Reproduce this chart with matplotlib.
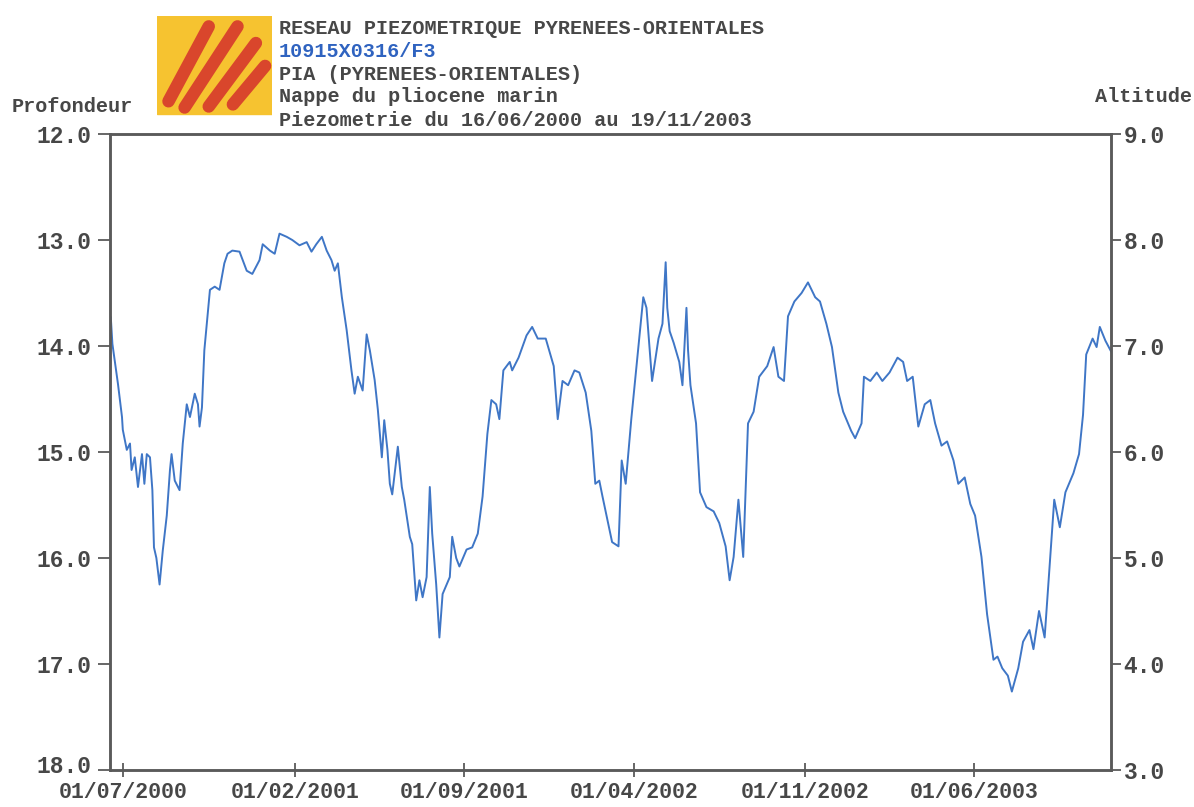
import matplotlib
matplotlib.use("Agg")
import matplotlib.pyplot as plt
from matplotlib.patches import Rectangle
from matplotlib.transforms import ScaledTranslation
import pandas as pd

# ---------------- data ----------------
dates = [
    "2000-06-16", "2000-06-18", "2000-06-25", "2000-06-30", "2000-07-01", "2000-07-06",
    "2000-07-10", "2000-07-12", "2000-07-16", "2000-07-20", "2000-07-25", "2000-07-28",
    "2000-07-31", "2000-08-04", "2000-08-07", "2000-08-09", "2000-08-12", "2000-08-16",
    "2000-08-20", "2000-08-25", "2000-08-29", "2000-08-31", "2000-09-04", "2000-09-10",
    "2000-09-14", "2000-09-19", "2000-09-23", "2000-09-29", "2000-10-03", "2000-10-05",
    "2000-10-08", "2000-10-11", "2000-10-18", "2000-10-24", "2000-10-30", "2000-11-05",
    "2000-11-09", "2000-11-15", "2000-11-24", "2000-12-03", "2000-12-10", "2000-12-19",
    "2000-12-23", "2001-01-01", "2001-01-07", "2001-01-13", "2001-01-22", "2001-01-29",
    "2001-02-07", "2001-02-16", "2001-02-22", "2001-02-28", "2001-03-07", "2001-03-13",
    "2001-03-19", "2001-03-23", "2001-03-27", "2001-04-01", "2001-04-07", "2001-04-13",
    "2001-04-17", "2001-04-21", "2001-04-27", "2001-05-02", "2001-05-06", "2001-05-12",
    "2001-05-16", "2001-05-21", "2001-05-24", "2001-05-28", "2001-05-31", "2001-06-03",
    "2001-06-10", "2001-06-15", "2001-06-18", "2001-06-25", "2001-06-28", "2001-07-03",
    "2001-07-07", "2001-07-11", "2001-07-16", "2001-07-20", "2001-07-23", "2001-07-28",
    "2001-08-01", "2001-08-05", "2001-08-14", "2001-08-17", "2001-08-22", "2001-08-26",
    "2001-09-04", "2001-09-11", "2001-09-18", "2001-09-24", "2001-09-30", "2001-10-05",
    "2001-10-11", "2001-10-15", "2001-10-20", "2001-10-28", "2001-10-31", "2001-11-08",
    "2001-11-18", "2001-11-25", "2001-12-02", "2001-12-12", "2001-12-22", "2001-12-27",
    "2002-01-02", "2002-01-09", "2002-01-17", "2002-01-23", "2002-01-31", "2002-02-07",
    "2002-02-12", "2002-02-17", "2002-02-21", "2002-02-28", "2002-03-05", "2002-03-13",
    "2002-03-17", "2002-03-22", "2002-03-29", "2002-04-06", "2002-04-13", "2002-04-17",
    "2002-04-24", "2002-05-02", "2002-05-07", "2002-05-11", "2002-05-13", "2002-05-16",
    "2002-05-21", "2002-05-28", "2002-06-01", "2002-06-06", "2002-06-08", "2002-06-11",
    "2002-06-18", "2002-06-23", "2002-07-01", "2002-07-10", "2002-07-17", "2002-07-25",
    "2002-07-30", "2002-08-04", "2002-08-10", "2002-08-16", "2002-08-22", "2002-08-29",
    "2002-09-05", "2002-09-15", "2002-09-23", "2002-09-29", "2002-10-06", "2002-10-11",
    "2002-10-19", "2002-10-28", "2002-11-05", "2002-11-14", "2002-11-20", "2002-11-28",
    "2002-12-05", "2002-12-13", "2002-12-19", "2002-12-29", "2003-01-03", "2003-01-11",
    "2003-01-14", "2003-01-22", "2003-01-30", "2003-02-06", "2003-02-15", "2003-02-25",
    "2003-03-04", "2003-03-09", "2003-03-16", "2003-03-23", "2003-03-31", "2003-04-07",
    "2003-04-13", "2003-04-21", "2003-04-28", "2003-05-06", "2003-05-12", "2003-05-20",
    "2003-05-27", "2003-06-02", "2003-06-10", "2003-06-17", "2003-06-25", "2003-06-30",
    "2003-07-06", "2003-07-13", "2003-07-18", "2003-07-26", "2003-08-01", "2003-08-09",
    "2003-08-14", "2003-08-21", "2003-08-28", "2003-09-04", "2003-09-09", "2003-09-16",
    "2003-09-23", "2003-10-03", "2003-10-10", "2003-10-15", "2003-10-19", "2003-10-27",
    "2003-11-01", "2003-11-05", "2003-11-12", "2003-11-19",
]
depth = [
    13.73, 13.98, 14.36, 14.67, 14.79, 14.98,
    14.92, 15.17, 15.05, 15.33, 15.02, 15.30,
    15.02, 15.05, 15.36, 15.90, 16.00, 16.25,
    15.93, 15.60, 15.17, 15.02, 15.27, 15.36,
    14.92, 14.55, 14.67, 14.45, 14.55, 14.76,
    14.58, 14.04, 13.47, 13.44, 13.47, 13.22,
    13.13, 13.10, 13.11, 13.29, 13.32, 13.19,
    13.04, 13.10, 13.13, 12.94, 12.97, 13.00,
    13.05, 13.02, 13.11, 13.04, 12.97, 13.10,
    13.19, 13.29, 13.22, 13.54, 13.85, 14.23,
    14.45, 14.29, 14.42, 13.89, 14.04, 14.32,
    14.60, 15.05, 14.70, 14.98, 15.30, 15.40,
    14.95, 15.33, 15.45, 15.80, 15.87, 16.40,
    16.21, 16.37, 16.18, 15.33, 15.77, 16.25,
    16.75, 16.34, 16.18, 15.80, 16.00, 16.08,
    15.92, 15.90, 15.77, 15.42, 14.83, 14.51,
    14.55, 14.69, 14.23, 14.15, 14.23, 14.11,
    13.90, 13.82, 13.93, 13.93, 14.19, 14.69,
    14.33, 14.37, 14.23, 14.25, 14.44, 14.80,
    15.30, 15.27, 15.42, 15.67, 15.85, 15.89,
    15.08, 15.30, 14.69, 14.08, 13.54, 13.64,
    14.33, 13.93, 13.79, 13.21, 13.64, 13.86,
    13.97, 14.15, 14.37, 13.64, 14.04, 14.37,
    14.73, 15.38, 15.52, 15.56, 15.67, 15.89,
    16.21, 15.99, 15.45, 15.99, 14.73, 14.62,
    14.29, 14.19, 14.01, 14.29, 14.33, 13.72,
    13.58, 13.50, 13.40, 13.54, 13.58, 13.79,
    14.01, 14.44, 14.62, 14.80, 14.87, 14.73,
    14.29, 14.33, 14.25, 14.33, 14.25, 14.11,
    14.15, 14.33, 14.29, 14.76, 14.55, 14.51,
    14.73, 14.94, 14.90, 15.08, 15.30, 15.24,
    15.49, 15.60, 15.99, 16.53, 16.96, 16.93,
    17.04, 17.11, 17.26, 17.04, 16.79, 16.68,
    16.86, 16.50, 16.75, 15.99, 15.45, 15.71,
    15.38, 15.20, 15.02, 14.65, 14.08, 13.93,
    14.01, 13.82, 13.95, 14.05,
]

x_tick_dates = ["2000-07-01", "2001-02-01", "2001-09-01", "2002-04-01", "2002-11-01", "2003-06-01"]
x_tick_labels = ["01/07/2000", "01/02/2001", "01/09/2001", "01/04/2002", "01/11/2002", "01/06/2003"]
left_ticks = [12, 13, 14, 15, 16, 17, 18]
right_ticks = [3, 4, 5, 6, 7, 8, 9]
x_start, x_end = "2000-06-15", "2003-11-19"

header_lines = [
    "RESEAU PIEZOMETRIQUE PYRENEES-ORIENTALES",
    "10915X0316/F3",
    "PIA (PYRENEES-ORIENTALES)",
    "Nappe du pliocene marin",
    "Piezometrie du 16/06/2000 au 19/11/2003",
]

# ---------------- figure ----------------
W, H = 1194, 807
fig = plt.figure(figsize=(W / 100, H / 100), dpi=100)
fig.patch.set_facecolor("white")

TXT = "#474747"
AX = "#5a5a5a"
LINE = "#3f76c6"
mono = ["Liberation Mono", "DejaVu Sans Mono"]
ytick_font = dict(family=mono, weight="bold", size=16.5)
xtick_font = dict(family=mono, weight="bold", size=15.5)
head_font = dict(family=mono, weight="bold", size=14.5)

def fx(px):
    return px / W

def fy(py):
    return 1 - py / H

left, right, top, bottom = 110, 1111, 134, 770
ax = fig.add_axes([fx(left), fy(bottom), (right - left) / W, (bottom - top) / H])

d = pd.to_datetime(dates)
ax.plot(d, depth, color=LINE, lw=1.4)

ax.set_xlim(pd.Timestamp(x_start), pd.Timestamp(x_end))
ax.set_ylim(18, 12)
ax.set_yticks(left_ticks)
ylabels = ax.set_yticklabels([f"{v:.1f}" for v in left_ticks], **ytick_font, color=TXT)
ax.set_xticks(pd.to_datetime(x_tick_dates))
ax.set_xticklabels(x_tick_labels, **xtick_font, color=TXT)
ax.tick_params(axis="y", direction="out", length=9, width=1.3, color=AX, pad=4)
ax.tick_params(axis="x", direction="inout", length=10, width=1.3, color=AX, pad=4)
# lift the bottom-most depth label a little so it clears the date labels
ylabels[-1].set_transform(ylabels[-1].get_transform() + ScaledTranslation(0, 6 / 100, fig.dpi_scale_trans))

for s in ax.spines.values():
    s.set_color(AX)
    s.set_linewidth(1.8)

ax2 = ax.twinx()
ax2.set_ylim(3, 9)
ax2.set_yticks(right_ticks)
ax2.set_yticklabels([f"{v:.1f}" for v in right_ticks], **ytick_font, color=TXT)
ax2.tick_params(axis="y", direction="out", length=7, width=1.3, color=AX, pad=2)
for s in ax2.spines.values():
    s.set_color(AX)
    s.set_linewidth(1.8)

# axis titles
fig.text(fx(12), fy(106), "Profondeur", ha="left", va="center", color=TXT, **head_font)
fig.text(fx(1192), fy(97), "Altitude", ha="right", va="center", color=TXT, **head_font)

# header
head_y = [29, 51.5, 74, 97, 120]
head_c = [TXT, "#2f63c0", TXT, TXT, TXT]
for line, yy, cc in zip(header_lines, head_y, head_c):
    fig.text(fx(279), fy(yy), line, ha="left", va="center", color=cc, **head_font)

# logo
lax = fig.add_axes([fx(157), fy(120), 115 / W, 104 / H])
lax.set_xlim(0, 1)
lax.set_ylim(0, 1)
lax.axis("off")
lax.add_patch(Rectangle((0, 0.06), 1, 0.94, color="#f6c330", zorder=0))
stripes = [((0.10, 0.18), (0.45, 0.90)), ((0.24, 0.12), (0.70, 0.90)),
           ((0.45, 0.13), (0.86, 0.74)), ((0.66, 0.15), (0.94, 0.52))]
for (x0, y0), (x1, y1) in stripes:
    lax.plot([x0, x1], [y0, y1], color="#d9462c", lw=9, solid_capstyle="round", zorder=1)

fig.savefig("out.png", dpi=100, facecolor="white")
